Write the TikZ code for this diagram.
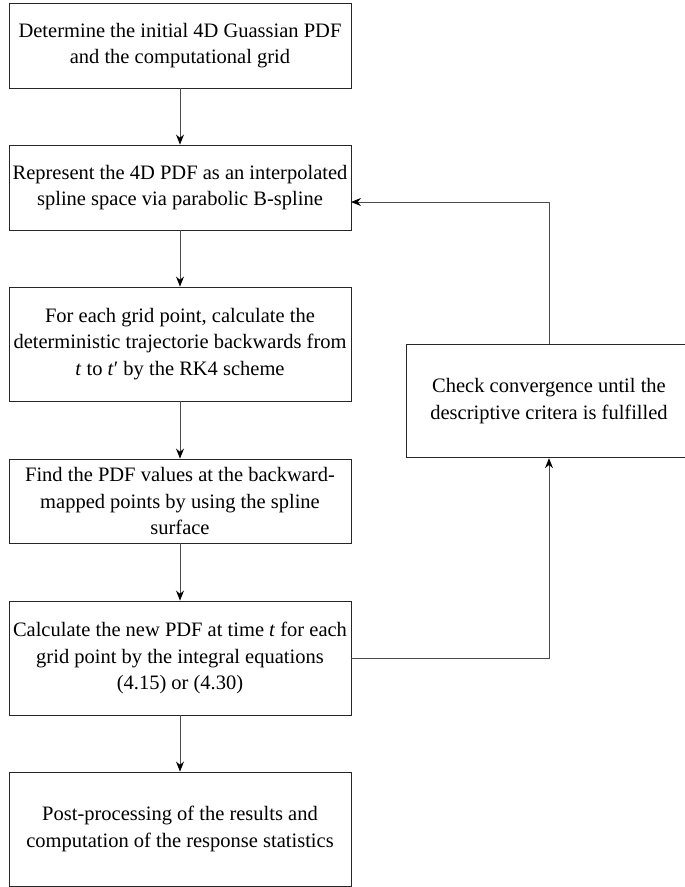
\documentclass[tikz,border=0pt]{standalone}
\usepackage{fontspec}
\setmainfont{Liberation Serif}
\usetikzlibrary{arrows.meta}
\begin{document}
\begin{tikzpicture}[x=1pt,y=-1pt,
  box/.style={draw=black!85, line width=0.9pt, minimum width=342pt, align=center,
    font=\fontsize{20.5}{26.5}\selectfont, inner sep=0pt},
  conn/.style={draw=black!70, line width=0.9pt, -{Stealth[length=10pt,width=8pt,color=black]}}]
\useasboundingbox (0,0) rectangle (685,887);
\node[box, minimum height=85pt] (b1) at (180,45.5) {Determine the initial 4D Guassian PDF\\and the computational grid};
\node[box, minimum height=85pt] (b2) at (180,187.5) {Represent the 4D PDF as an interpolated\\spline space via parabolic B-spline};
\node[box, minimum height=114pt] (b3) at (180,344) {For each grid point, calculate the\\deterministic trajectorie backwards from\\\textit{t} to \textit{t}′ by the RK4 scheme};
\node[box, minimum height=84pt] (b4) at (180,501) {Find the PDF values at the backward-\\mapped points by using the spline\\surface};
\node[box, minimum height=114pt] (b5) at (180,658) {Calculate the new PDF at time \textit{t} for each\\grid point by the integral equations\\(4.15) or (4.30)};
\node[box, minimum height=114pt] (b6) at (180,829) {Post-processing of the results and\\computation of the response statistics};
\node[box, minimum width=286pt, minimum height=113.5pt] (chk) at (549,401) {Check convergence until the\\descriptive critera is fulfilled};
\coordinate (fb) at (351,202);
\draw[conn] (b1) -- (b2);
\draw[conn] (b2) -- (b3);
\draw[conn] (b3) -- (b4);
\draw[conn] (b4) -- (b5);
\draw[conn] (b5) -- (b6);
\draw[conn] (b5.east) -| (chk.south);
\draw[conn] (chk.north) |- (fb);
\end{tikzpicture}
\end{document}
